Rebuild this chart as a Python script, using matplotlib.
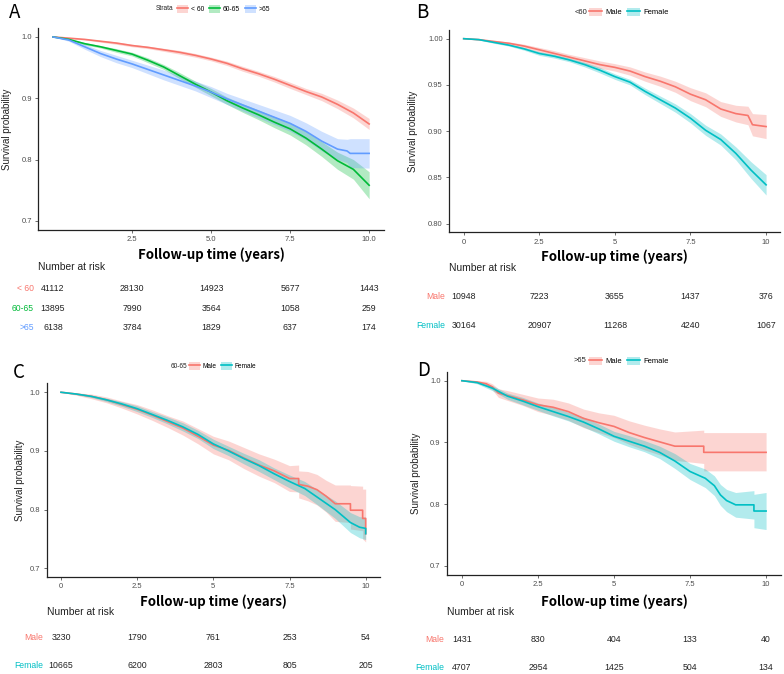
import matplotlib
matplotlib.use("Agg")
import matplotlib.pyplot as plt
import matplotlib.transforms as mtransforms
from matplotlib.patches import Patch
from matplotlib.lines import Line2D

plt.rcParams['font.family'] = ['Liberation Sans', 'DejaVu Sans']

W, H = 784, 674
RED = '#F8766D'
GREEN = '#00BA38'
BLUE = '#619CFF'
CYAN = '#00BFC4'

# ---- data ----
risk_times = [0, 2.5, 5, 7.5, 10]

# A: age strata
a_t = [0, 0.5, 1, 1.5, 2, 2.5, 3, 3.5, 4, 4.5, 5, 5.5, 6, 6.5, 7, 7.5, 8, 8.5, 9, 9.5, 10]
a_lt60 = [1.0, 0.998, 0.996, 0.993, 0.990, 0.986, 0.983, 0.979, 0.975, 0.970, 0.964,
          0.957, 0.948, 0.940, 0.931, 0.921, 0.911, 0.902, 0.890, 0.876, 0.858]
a_lt60_lo = [1.0, 0.997, 0.995, 0.9915, 0.988, 0.984, 0.981, 0.9765, 0.972, 0.967, 0.961,
             0.9535, 0.944, 0.936, 0.9265, 0.916, 0.906, 0.896, 0.883, 0.868, 0.849]
a_lt60_hi = [1.0, 0.999, 0.997, 0.9945, 0.992, 0.988, 0.985, 0.9815, 0.978, 0.973, 0.967,
             0.9605, 0.952, 0.944, 0.9355, 0.926, 0.916, 0.908, 0.897, 0.884, 0.867]
a_6065 = [1.0, 0.996, 0.989, 0.984, 0.978, 0.972, 0.962, 0.951, 0.937, 0.923, 0.910,
          0.896, 0.884, 0.873, 0.861, 0.850, 0.835, 0.817, 0.798, 0.784, 0.758]
a_6065_lo = [1.0, 0.995, 0.987, 0.982, 0.975, 0.969, 0.958, 0.947, 0.932, 0.918, 0.904,
             0.890, 0.877, 0.865, 0.852, 0.840, 0.824, 0.805, 0.784, 0.768, 0.736]
a_6065_hi = [1.0, 0.997, 0.991, 0.986, 0.981, 0.975, 0.966, 0.955, 0.942, 0.928, 0.916,
             0.902, 0.891, 0.881, 0.870, 0.860, 0.846, 0.829, 0.812, 0.800, 0.780]
a_t65 = [0, 0.5, 1, 1.5, 2, 2.5, 3, 3.5, 4, 4.5, 5, 5.5, 6, 6.5, 7, 7.5, 8, 8.5, 9, 9.3, 9.4, 10]
a_gt65 = [1.0, 0.995, 0.984, 0.973, 0.964, 0.956, 0.947, 0.938, 0.929, 0.920, 0.910,
          0.899, 0.889, 0.879, 0.869, 0.859, 0.846, 0.830, 0.817, 0.814, 0.810, 0.810]
a_gt65_lo = [1.0, 0.993, 0.980, 0.968, 0.958, 0.950, 0.940, 0.930, 0.921, 0.912, 0.901,
             0.890, 0.879, 0.868, 0.857, 0.846, 0.832, 0.814, 0.800, 0.795, 0.787, 0.786]
a_gt65_hi = [1.0, 0.997, 0.988, 0.978, 0.970, 0.962, 0.954, 0.946, 0.937, 0.928, 0.919,
             0.908, 0.899, 0.890, 0.881, 0.872, 0.860, 0.846, 0.834, 0.833, 0.834, 0.834]
a_labels = ['< 60', '60-65', '>65']
a_risk = [[41112, 28130, 14923, 5677, 1443],
          [13895, 7990, 3564, 1058, 259],
          [6138, 3784, 1829, 637, 174]]

# B: <60 by sex
b_tm = [0, 0.5, 1, 1.5, 2, 2.5, 3, 3.5, 4, 4.5, 5, 5.5, 6, 6.5, 7, 7.5, 8, 8.5, 9, 9.4, 9.55, 10]
b_male = [1.0, 0.999, 0.997, 0.995, 0.992, 0.988, 0.984, 0.980, 0.976, 0.972, 0.969,
          0.965, 0.959, 0.954, 0.948, 0.940, 0.934, 0.924, 0.919, 0.917, 0.907, 0.905]
b_male_lo = [1.0, 0.9985, 0.996, 0.9935, 0.990, 0.9855, 0.981, 0.977, 0.9725, 0.968, 0.965,
             0.9605, 0.954, 0.9485, 0.942, 0.933, 0.9265, 0.916, 0.910, 0.907, 0.895, 0.892]
b_male_hi = [1.0, 0.9995, 0.998, 0.9965, 0.994, 0.9905, 0.987, 0.983, 0.9795, 0.976, 0.973,
             0.9695, 0.964, 0.9595, 0.954, 0.947, 0.9415, 0.932, 0.928, 0.927, 0.919, 0.918]
b_tf = [0, 0.5, 1, 1.5, 2, 2.5, 3, 3.5, 4, 4.5, 5, 5.5, 6, 6.5, 7, 7.5, 8, 8.5, 9, 9.5, 10]
b_female = [1.0, 0.999, 0.996, 0.993, 0.989, 0.984, 0.981, 0.977, 0.972, 0.966, 0.959,
            0.953, 0.943, 0.934, 0.925, 0.914, 0.901, 0.891, 0.876, 0.858, 0.842]
b_female_lo = [1.0, 0.9985, 0.995, 0.992, 0.9875, 0.982, 0.979, 0.975, 0.9695, 0.963, 0.956,
               0.950, 0.9395, 0.930, 0.9205, 0.909, 0.8955, 0.885, 0.869, 0.849, 0.831]
b_female_hi = [1.0, 0.9995, 0.997, 0.994, 0.9905, 0.986, 0.983, 0.979, 0.9745, 0.969, 0.962,
               0.956, 0.9465, 0.938, 0.9295, 0.919, 0.9065, 0.897, 0.883, 0.867, 0.853]
b_risk = [[10948, 7223, 3655, 1437, 376],
          [30164, 20907, 11268, 4240, 1067]]

# C: 60-65 by sex
c_tm = [0, 0.5, 1, 1.5, 2, 2.5, 3, 3.5, 4, 4.5, 5, 5.5, 6, 6.5, 7, 7.5, 7.8, 7.8,
        8.1, 8.4, 8.7, 9.0, 9.5, 9.5, 9.9, 9.9, 10, 10]
c_male = [1.0, 0.997, 0.993, 0.987, 0.979, 0.971, 0.961, 0.950, 0.939, 0.925, 0.910,
          0.901, 0.888, 0.876, 0.866, 0.853, 0.853, 0.843, 0.840, 0.834, 0.823, 0.810,
          0.810, 0.799, 0.799, 0.785, 0.785, 0.759]
c_male_lo = [1.0, 0.995, 0.989, 0.982, 0.973, 0.963, 0.952, 0.940, 0.927, 0.912, 0.895,
             0.885, 0.870, 0.857, 0.846, 0.831, 0.830, 0.820, 0.815, 0.808, 0.796, 0.780,
             0.778, 0.767, 0.764, 0.750, 0.745, 0.700]
c_male_hi = [1.0, 0.999, 0.997, 0.992, 0.985, 0.979, 0.970, 0.960, 0.951, 0.938, 0.925,
             0.917, 0.906, 0.895, 0.886, 0.875, 0.876, 0.866, 0.865, 0.860, 0.850, 0.842,
             0.842, 0.841, 0.840, 0.835, 0.835, 0.830]
c_tf = [0, 0.5, 1, 1.5, 2, 2.5, 3, 3.5, 4, 4.5, 5, 5.5, 6, 6.5, 7, 7.5, 8, 8.5, 9,
        9.5, 9.8, 10, 10]
c_female = [1.0, 0.997, 0.993, 0.987, 0.980, 0.972, 0.962, 0.952, 0.941, 0.928, 0.912,
            0.900, 0.887, 0.875, 0.861, 0.848, 0.836, 0.818, 0.800, 0.778, 0.770, 0.768, 0.759]
c_female_lo = [1.0, 0.996, 0.991, 0.984, 0.976, 0.967, 0.957, 0.946, 0.934, 0.921, 0.904,
               0.892, 0.878, 0.865, 0.851, 0.837, 0.824, 0.805, 0.785, 0.761, 0.752, 0.749, 0.739]
c_female_hi = [1.0, 0.998, 0.995, 0.990, 0.984, 0.977, 0.967, 0.958, 0.948, 0.935, 0.920,
               0.908, 0.896, 0.885, 0.871, 0.859, 0.848, 0.831, 0.815, 0.795, 0.788, 0.787, 0.779]
c_risk = [[3230, 1790, 761, 253, 54],
          [10665, 6200, 2803, 805, 205]]

# D: >65 by sex
d_tm = [0, 0.5, 0.8, 1.0, 1.2, 1.5, 2, 2.5, 3, 3.5, 4, 4.5, 5, 5.5, 6, 6.5, 7, 7.95, 7.95, 10]
d_male = [1.0, 0.998, 0.995, 0.990, 0.980, 0.976, 0.969, 0.961, 0.957, 0.950, 0.939,
          0.932, 0.926, 0.916, 0.908, 0.901, 0.894, 0.894, 0.884, 0.884]
d_male_lo = [1.0, 0.996, 0.991, 0.985, 0.973, 0.968, 0.960, 0.950, 0.944, 0.936, 0.924,
             0.916, 0.908, 0.897, 0.888, 0.880, 0.871, 0.866, 0.854, 0.854]
d_male_hi = [1.0, 1.0, 0.999, 0.995, 0.987, 0.984, 0.978, 0.972, 0.970, 0.964, 0.954,
             0.948, 0.944, 0.935, 0.928, 0.922, 0.917, 0.920, 0.916, 0.916]
d_tf = [0, 0.5, 1, 1.5, 2, 2.5, 3, 3.5, 4, 4.5, 5, 5.5, 6, 6.5, 7, 7.5, 8, 8.3, 8.5,
        8.7, 9, 9.6, 9.6, 10]
d_female = [1.0, 0.997, 0.988, 0.975, 0.967, 0.958, 0.950, 0.942, 0.933, 0.922, 0.910,
            0.902, 0.894, 0.884, 0.870, 0.853, 0.842, 0.830, 0.815, 0.806, 0.799, 0.799,
            0.789, 0.789]
d_female_lo = [1.0, 0.995, 0.984, 0.970, 0.961, 0.952, 0.943, 0.935, 0.925, 0.914, 0.902,
               0.893, 0.885, 0.874, 0.858, 0.840, 0.827, 0.814, 0.798, 0.788, 0.779, 0.776,
               0.762, 0.759]
d_female_hi = [1.0, 0.999, 0.992, 0.980, 0.973, 0.964, 0.957, 0.949, 0.941, 0.930, 0.918,
               0.911, 0.903, 0.894, 0.882, 0.866, 0.857, 0.846, 0.832, 0.824, 0.819, 0.822,
               0.816, 0.819]
d_risk = [[1431, 830, 404, 133, 40],
          [4707, 2954, 1425, 504, 134]]

sex_labels = ['Male', 'Female']


fig = plt.figure(figsize=(W / 100, H / 100), dpi=100)


def fy(py):
    return 1 - py / H


def make_axes(l, t, r, b, xlim, ylim, xticks, xlabels, yticks, ylabels):
    ax = fig.add_axes([l / W, 1 - b / H, (r - l) / W, (b - t) / H])
    ax.set_xlim(xlim)
    ax.set_ylim(ylim)
    ax.set_xticks(xticks)
    ax.set_xticklabels(xlabels)
    ax.set_yticks(yticks)
    ax.set_yticklabels(ylabels)
    for s in ['top', 'right']:
        ax.spines[s].set_visible(False)
    for s in ['left', 'bottom']:
        ax.spines[s].set_linewidth(0.9)
        ax.spines[s].set_color('#222222')
    ax.tick_params(length=2.5, width=0.6, color='#555555', labelsize=5.5,
                   labelcolor='#4D4D4D', pad=2)
    return ax


def curve(ax, t, s, lo, hi, color):
    ax.fill_between(t, lo, hi, color=color, alpha=0.3, lw=0)
    ax.plot(t, s, color=color, lw=1.2)


def legend(ax, title, labels, colors, title_x, key_x, y, fs):
    fig.text(title_x / W, fy(y), title, ha='left', va='center', fontsize=fs, color='#222222')
    handles = [(Patch(facecolor=c, alpha=0.3, edgecolor='none'), Line2D([], [], color=c, lw=1.2))
               for c in colors]
    ax.legend(handles, labels, ncol=len(labels), loc='center left',
              bbox_to_anchor=(key_x / W, fy(y)), bbox_transform=fig.transFigure,
              frameon=False, fontsize=fs, handlelength=1.7, handleheight=1.4,
              handletextpad=0.4, columnspacing=0.7, borderpad=0, borderaxespad=0)


def risk_table(ax, labels, colors, rows, label_x, nar_y, row_y):
    fig.text(ax.get_position().x0, fy(nar_y), 'Number at risk', ha='left', va='center',
             fontsize=7.4, color='#222222')
    tr = mtransforms.blended_transform_factory(ax.transData, fig.transFigure)
    for lab, c, row, y in zip(labels, colors, rows, row_y):
        fig.text(label_x / W, fy(y), lab, ha='right', va='center', fontsize=6.2, color=c)
        for tm, n in zip(risk_times, row):
            ax.text(tm, fy(y), str(n), transform=tr, ha='center', va='center',
                    fontsize=6.3, color='#222222')


def titles(ax, letter, lx, ly, ylab_x, xlab_y):
    fig.text(lx / W, fy(ly), letter, ha='left', va='center', fontsize=13.5,
             family=['Noto Sans CJK KR', 'DejaVu Sans'], fontweight='light')
    pos = ax.get_position()
    fig.text(ylab_x / W, (pos.y0 + pos.y1) / 2, 'Survival probability', rotation=90,
             ha='center', va='center', fontsize=7, color='#222222')
    fig.text((pos.x0 + pos.x1) / 2, fy(xlab_y), 'Follow-up time (years)', ha='center',
             va='center', fontsize=9.5, fontweight='bold',
             family=['Noto Sans CJK KR', 'DejaVu Sans'])


# ---- A ----
axA = make_axes(38, 28, 384, 230, (-0.475, 10.47), (0.685, 1.0146),
                [2.5, 5, 7.5, 10], ['2.5', '5.0', '7.5', '10.0'],
                [0.7, 0.8, 0.9, 1.0], ['0.7', '0.8', '0.9', '1.0'])
curve(axA, a_t, a_lt60, a_lt60_lo, a_lt60_hi, RED)
curve(axA, a_t, a_6065, a_6065_lo, a_6065_hi, GREEN)
curve(axA, a_t65, a_gt65, a_gt65_lo, a_gt65_hi, BLUE)
legend(axA, 'Strata', a_labels, [RED, GREEN, BLUE], 156, 177, 9, 4.8)
risk_table(axA, a_labels, [RED, GREEN, BLUE], a_risk, 34, 267, [288.5, 308.5, 328])
titles(axA, 'A', 9, 12, 7, 255)

# ---- B ----
tick5 = [0, 2.5, 5, 7.5, 10]
tick5_lab = ['0', '2.5', '5', '7.5', '10']
axB = make_axes(449, 30, 780, 232.3, (-0.486, 10.46), (0.7907, 1.0094),
                tick5, tick5_lab,
                [0.80, 0.85, 0.90, 0.95, 1.00], ['0.80', '0.85', '0.90', '0.95', '1.00'])
curve(axB, b_tm, b_male, b_male_lo, b_male_hi, RED)
curve(axB, b_tf, b_female, b_female_lo, b_female_hi, CYAN)
legend(axB, '<60', sex_labels, [RED, CYAN], 575, 589, 12, 5.5)
risk_table(axB, sex_labels, [RED, CYAN], b_risk, 445, 268, [296.7, 325])
titles(axB, 'B', 416, 12, 412.7, 256.7)

# ---- C ----
axC = make_axes(46.7, 383.3, 380, 576.7, (-0.47, 10.47), (0.6857, 1.0153),
                tick5, tick5_lab,
                [0.7, 0.8, 0.9, 1.0], ['0.7', '0.8', '0.9', '1.0'])
curve(axC, c_tm, c_male, c_male_lo, c_male_hi, RED)
curve(axC, c_tf, c_female, c_female_lo, c_female_hi, CYAN)
legend(axC, '60-65', sex_labels, [RED, CYAN], 171, 189, 366, 4.7)
risk_table(axC, sex_labels, [RED, CYAN], c_risk, 43, 611.7, [638, 665.7])
titles(axC, 'C', 13, 373, 20, 601.7)

# ---- D ----
axD = make_axes(447, 371.7, 781, 575, (-0.49, 10.49), (0.6854, 1.0146),
                tick5, tick5_lab,
                [0.7, 0.8, 0.9, 1.0], ['0.7', '0.8', '0.9', '1.0'])
curve(axD, d_tm, d_male, d_male_lo, d_male_hi, RED)
curve(axD, d_tf, d_female, d_female_lo, d_female_hi, CYAN)
legend(axD, '>65', sex_labels, [RED, CYAN], 574, 589, 361, 5.5)
risk_table(axD, sex_labels, [RED, CYAN], d_risk, 444, 611.7, [639, 668])
titles(axD, 'D', 417, 371, 416, 601.7)

fig.savefig('out.png', dpi=100)
